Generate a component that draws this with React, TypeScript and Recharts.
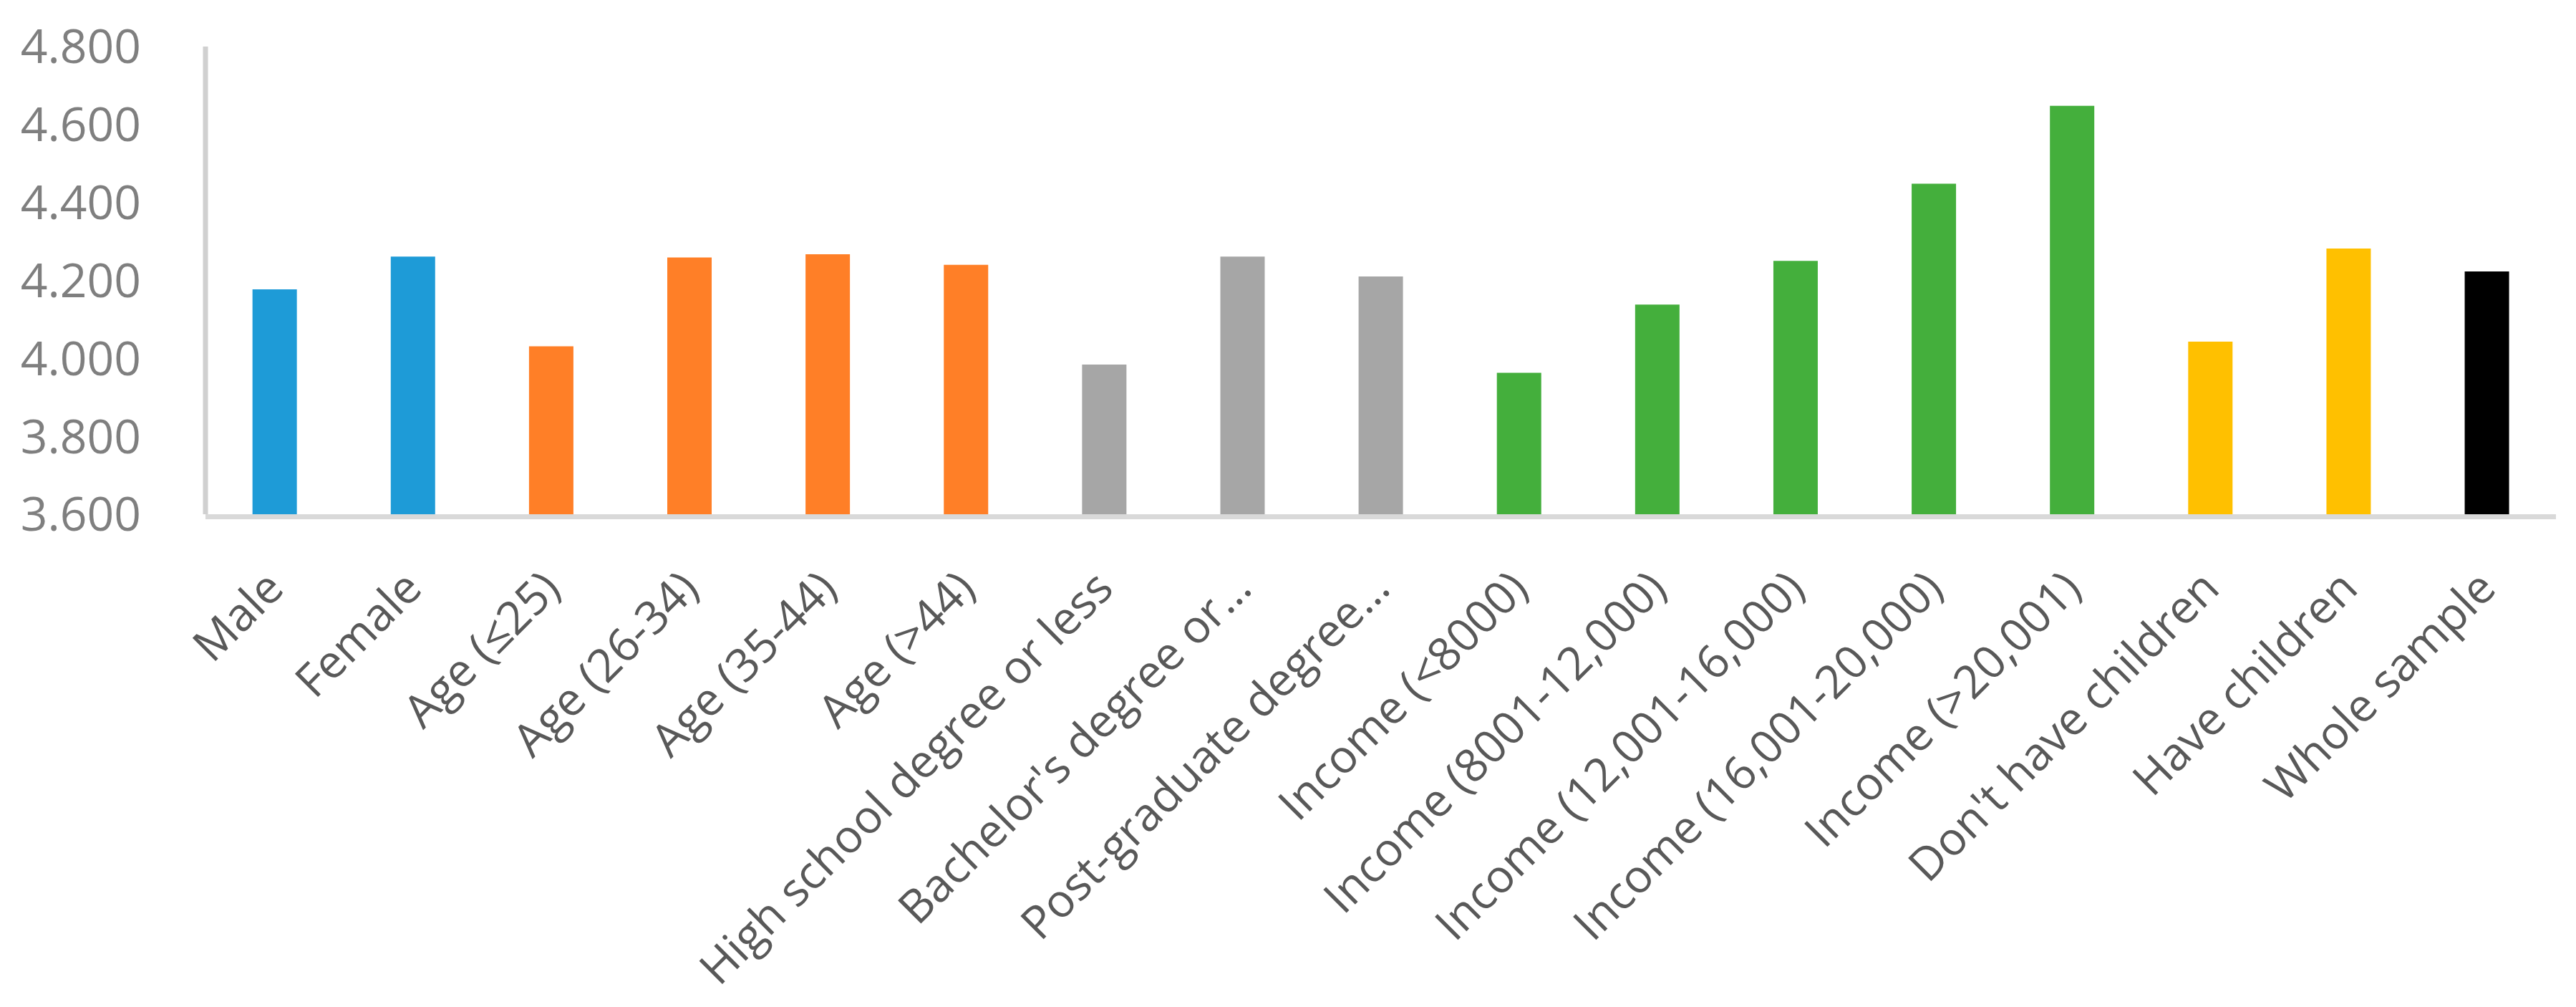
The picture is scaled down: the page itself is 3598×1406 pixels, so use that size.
import { Bar, BarChart, Cell, XAxis, YAxis } from "recharts";

const categories = [
  "Male",
  "Female",
  "Age (≤25)",
  "Age (26-34)",
  "Age (35-44)",
  "Age (>44)",
  "High school degree or less",
  "Bachelor's degree or…",
  "Post-graduate degree…",
  "Income (<8000)",
  "Income (8001-12,000)",
  "Income (12,001-16,000)",
  "Income (16,001-20,000)",
  "Income (>20,001)",
  "Don't have children",
  "Have children",
  "Whole sample",
];

const values = [
  4.177, 4.261, 4.031, 4.259, 4.267, 4.24, 3.984, 4.261, 4.21, 3.963, 4.138,
  4.25, 4.448, 4.648, 4.043, 4.282, 4.223,
];

const groups = [
  "gender", "gender",
  "age", "age", "age", "age",
  "education", "education", "education",
  "income", "income", "income", "income", "income",
  "children", "children",
  "all",
];

const yTicks = [3.6, 3.8, 4.0, 4.2, 4.4, 4.6, 4.8];

const groupColors: Record<string, string> = {
  gender: "#1E9BD7",
  age: "#FF7F27",
  education: "#A6A6A6",
  income: "#44AF3C",
  children: "#FFC000",
  all: "#000000",
};

const data = categories.map((name, i) => ({ name, value: values[i], group: groups[i] }));

const FONT = "'Open Sans', 'Noto Sans', sans-serif";

function XTick(props: any) {
  const { x, y, payload } = props;
  return (
    <text
      x={x}
      y={y}
      dy="0.35em"
      textAnchor="end"
      transform={`rotate(-45 ${x} ${y})`}
      fill="#595959"
      fontSize={64}
      fontFamily={FONT}
    >
      {payload.value}
    </text>
  );
}

export default function App() {
  return (
    <div style={{ position: "absolute", left: 0, top: 0, width: 3598, height: 1406, background: "#fff" }}>
      <BarChart
        width={3598}
        height={1406}
        data={data}
        margin={{ top: 65, right: 28, left: 0, bottom: 0 }}
        barCategoryGap="34%"
      >
        <XAxis
          dataKey="name"
          interval={0}
          height={688}
          tickSize={0}
          tickMargin={91}
          tickLine={false}
          axisLine={{ stroke: "#D9D9D9", strokeWidth: 7, transform: "translate(0,3.5)" }}
          tick={<XTick />}
        />
        <YAxis
          width={287}
          domain={[3.6, 4.8]}
          ticks={yTicks}
          interval={0}
          tickFormatter={(v: number) => v.toFixed(3)}
          tickSize={0}
          tickMargin={90}
          tickLine={false}
          axisLine={{ stroke: "#D0D0D0", strokeWidth: 7 }}
          tick={{ fill: "#7F7F7F", fontSize: 66, fontFamily: FONT }}
          allowDataOverflow
        />
        <Bar dataKey="value" isAnimationActive={false}>
          {data.map((d, i) => (
            <Cell key={i} fill={groupColors[d.group]} />
          ))}
        </Bar>
      </BarChart>
    </div>
  );
}
